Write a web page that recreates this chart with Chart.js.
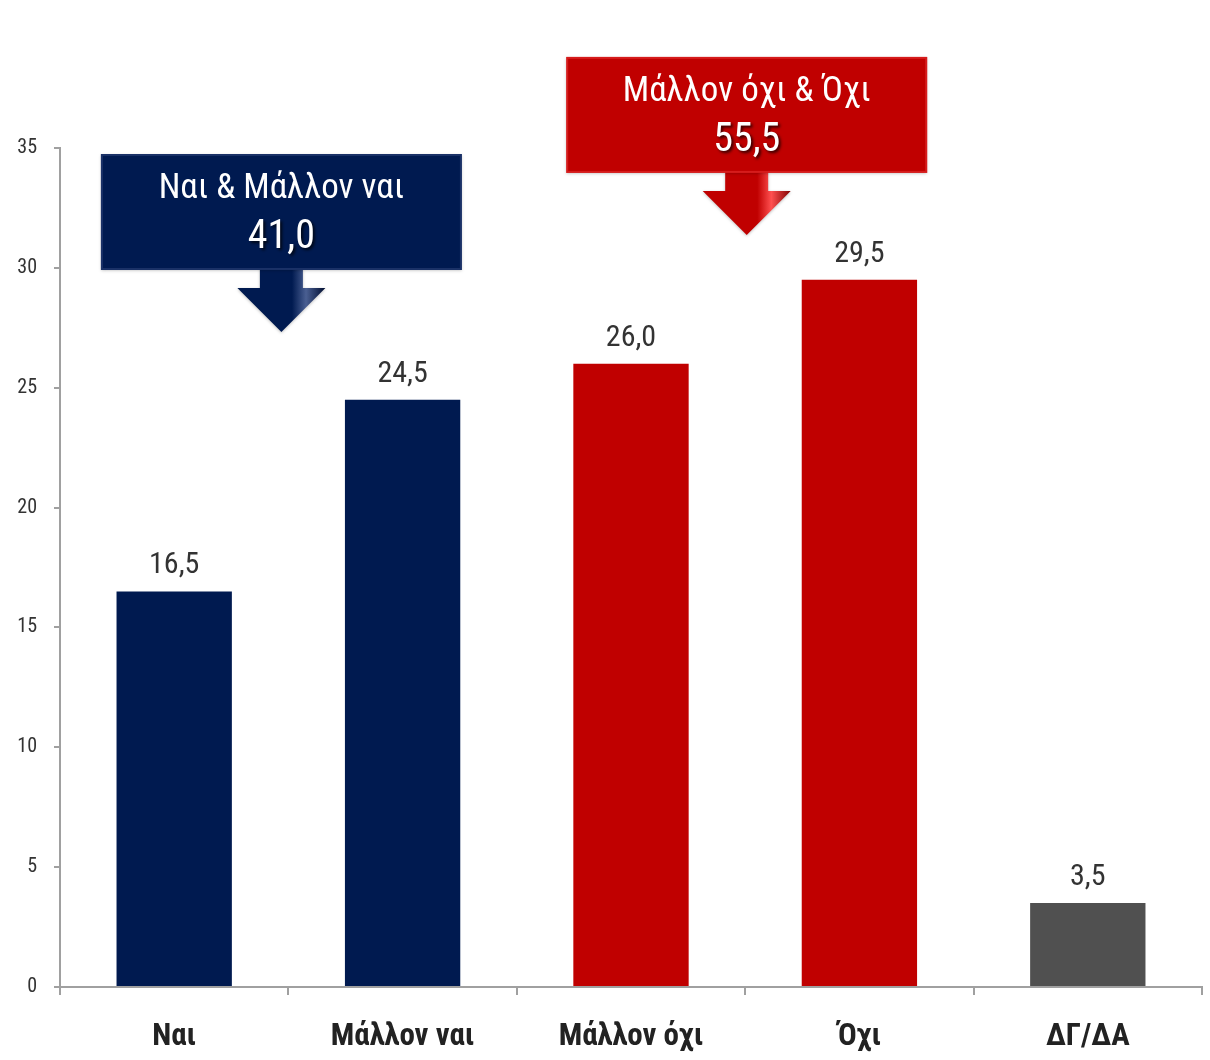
<!DOCTYPE html>
<html>
<head>
<meta charset="utf-8">
<script src="https://cdn.jsdelivr.net/npm/chart.js@4/dist/chart.umd.min.js"></script>
<style>
  html, body { margin: 0; padding: 0; background: #ffffff; }
  #wrap { width: 1210px; height: 1060px; position: relative; }
  canvas { display: block; }
</style>
</head>
<body>
<div id="wrap"><canvas id="c" width="1210" height="1060"></canvas></div>
<script>
const categories = ["Ναι", "Μάλλον ναι", "Μάλλον όχι", "Όχι", "ΔΓ/ΔΑ"];
const values = [16.5, 24.5, 26.0, 29.5, 3.5];
const barColors = ["#001a50", "#001a50", "#c00000", "#c00000", "#505050"];
const yTicks = [0, 5, 10, 15, 20, 25, 30, 35];
const groupTitles = ["Ναι & Μάλλον ναι", "Μάλλον όχι & Όχι"];
const groupTotals = ["41,0", "55,5"];
const groupPairs = [[0, 1], [2, 3]];

const FONT = '"Liberation Sans Narrow", "Roboto Condensed", "DejaVu Sans Condensed", "Liberation Sans", sans-serif';

function fmt(v) { return v.toFixed(1).replace('.', ','); }

const valueLabels = {
  id: 'valueLabels',
  afterDatasetsDraw(chart) {
    const ctx = chart.ctx;
    const meta = chart.getDatasetMeta(0);
    ctx.save();
    ctx.font = '30px ' + FONT;
    ctx.fillStyle = '#333333';
    ctx.textAlign = 'center';
    ctx.textBaseline = 'alphabetic';
    meta.data.forEach((bar, i) => {
      ctx.fillText(fmt(values[i]), bar.x, bar.y - 18);
    });
    ctx.restore();
  }
};

function drawCallout(ctx, cx, top, color, light, dark, title, total) {
  const w = 361, h = 116;
  const left = cx - w / 2;
  ctx.save();
  // arrow
  const stemW = 43, headW = 88, stemH = 18, headH = 44;
  const by = top + h;
  ctx.beginPath();
  ctx.moveTo(cx - stemW / 2, by - 2);
  ctx.lineTo(cx + stemW / 2, by - 2);
  ctx.lineTo(cx + stemW / 2, by + stemH);
  ctx.lineTo(cx + headW / 2, by + stemH);
  ctx.lineTo(cx, by + stemH + headH);
  ctx.lineTo(cx - headW / 2, by + stemH);
  ctx.lineTo(cx - stemW / 2, by + stemH);
  ctx.closePath();
  const ag = ctx.createLinearGradient(cx - headW / 2, 0, cx + headW / 2, 0);
  ag.addColorStop(0, color);
  ag.addColorStop(0.62, color);
  ag.addColorStop(0.78, light);
  ag.addColorStop(1, dark);
  ctx.fillStyle = ag;
  ctx.shadowColor = 'rgba(0,0,0,0.25)';
  ctx.shadowBlur = 3;
  ctx.shadowOffsetY = 1;
  ctx.fill();
  // box
  ctx.fillStyle = color;
  ctx.fillRect(left, top, w, h);
  ctx.shadowColor = 'transparent';
  // bevel
  ctx.strokeStyle = light;
  ctx.globalAlpha = 0.35;
  ctx.lineWidth = 2;
  ctx.strokeRect(left + 1, top + 1, w - 2, h - 2);
  ctx.globalAlpha = 1;
  // texts
  ctx.fillStyle = '#ffffff';
  ctx.textAlign = 'center';
  ctx.textBaseline = 'middle';
  ctx.font = '35px ' + FONT;
  ctx.fillText(title, cx, top + 35);
  ctx.shadowColor = 'rgba(0,0,0,0.75)';
  ctx.shadowBlur = 3;
  ctx.shadowOffsetX = 2;
  ctx.shadowOffsetY = 2;
  ctx.font = '40px ' + FONT;
  ctx.fillText(total, cx, top + 84);
  ctx.restore();
}

const callouts = {
  id: 'callouts',
  afterDraw(chart) {
    const ctx = chart.ctx;
    const meta = chart.getDatasetMeta(0);
    const yS = chart.scales.y;
    const tops = [yS.getPixelForValue(34.75), yS.getPixelForValue(38.8)];
    const shifts = [-7, 1.5];
    const styles = [
      ['#001a50', '#4a5f92', '#000d30'],
      ['#c00000', '#ff5050', '#800000']
    ];
    groupPairs.forEach((pair, g) => {
      const cx = (meta.data[pair[0]].x + meta.data[pair[1]].x) / 2 + shifts[g];
      drawCallout(ctx, cx, tops[g], styles[g][0], styles[g][1], styles[g][2], groupTitles[g], groupTotals[g]);
    });
  }
};

new Chart(document.getElementById('c'), {
  type: 'bar',
  data: {
    labels: categories,
    datasets: [{
      data: values,
      backgroundColor: barColors,
      borderWidth: 0,
      barPercentage: 0.505,
      categoryPercentage: 1.0
    }]
  },
  options: {
    responsive: false,
    animation: false,
    devicePixelRatio: 1,
    layout: { padding: { top: 148, right: 8, left: 0, bottom: 0 } },
    plugins: { legend: { display: false }, tooltip: { enabled: false } },
    scales: {
      x: {
        offset: true,
        grid: { display: true, offset: true, drawOnChartArea: false, drawTicks: true, tickLength: 8, color: '#a0a0a0', lineWidth: 2 },
        border: { display: true, color: '#a0a0a0', width: 2 },
        ticks: { color: '#222222', font: { family: FONT, size: 31, weight: 'bold' }, padding: 24, maxRotation: 0 },
        afterFit(s) { s.height = 73; }
      },
      y: {
        min: 0, max: 35,
        afterBuildTicks(s) { s.ticks = yTicks.map(v => ({ value: v })); },
        grid: { display: true, drawOnChartArea: false, drawTicks: true, tickLength: 6, color: '#a0a0a0', lineWidth: 2 },
        border: { display: true, color: '#a0a0a0', width: 2 },
        ticks: { color: '#333333', font: { family: FONT, size: 20 }, padding: 17 },
        afterFit(s) { s.width = 60; }
      }
    }
  },
  plugins: [valueLabels, callouts]
});
</script>
</body>
</html>
